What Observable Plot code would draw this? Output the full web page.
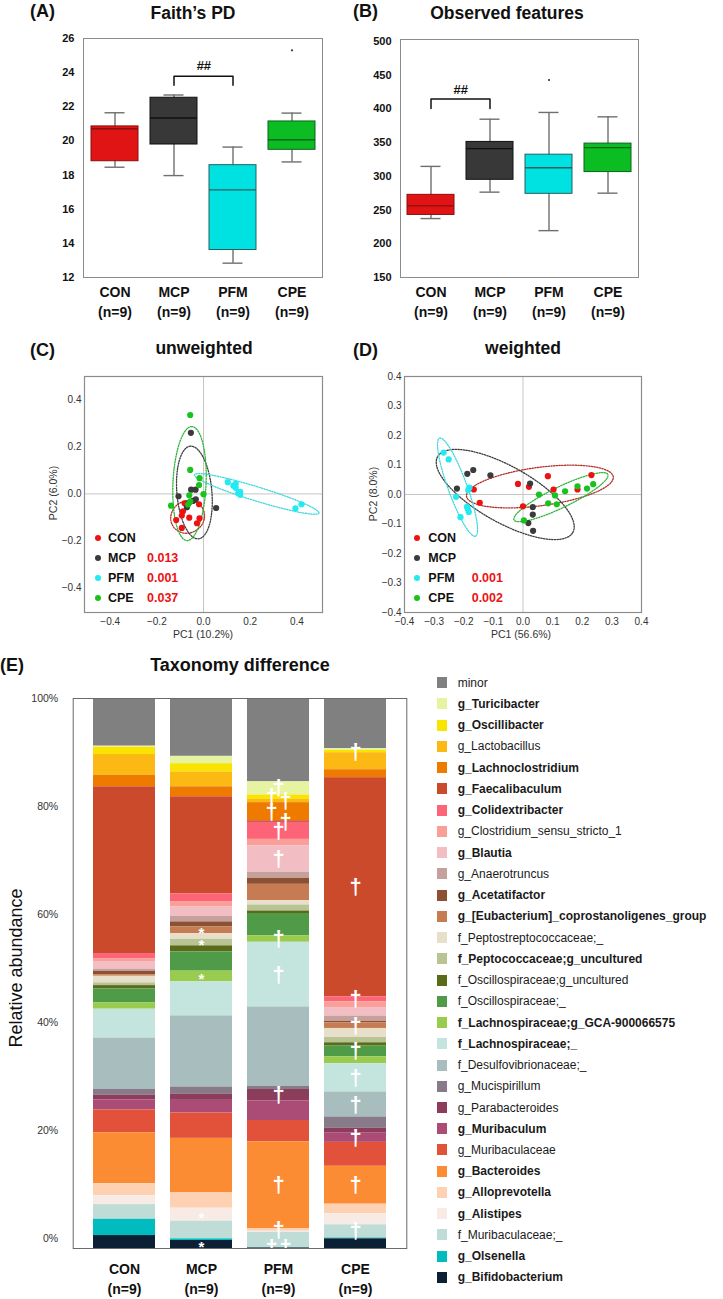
<!DOCTYPE html>
<html lang="en">
<head>
<meta charset="utf-8">
<title>Gut microbiota diversity and composition</title>
<script src="https://cdn.jsdelivr.net/npm/d3@7"></script>
<script src="https://cdn.jsdelivr.net/npm/@observablehq/plot@0.6"></script>
<style>
  html, body { margin: 0; padding: 0; background: #fff; }
  #fig { position: relative; width: 723px; height: 1299px; overflow: hidden;
         font-family: "Liberation Sans", Arial, Helvetica, sans-serif; color: #111; }
  #fig svg { position: absolute; }
  .t { position: absolute; white-space: nowrap; line-height: 1; }
  .sw { position: absolute; width: 10px; height: 11px; }
  .pt { position: absolute; width: 6px; height: 6px; border-radius: 50%; }
</style>
</head>
<body>
<div id="fig"></div>
<script>
const FONT = '"Liberation Sans", Arial, Helvetica, sans-serif';

// ---- groups ----
const groups = ["CON", "MCP", "PFM", "CPE"];
const groupSize = [9, 9, 9, 9];
const boxFill = ["#e01414", "#383838", "#00e2e2", "#0bbd22"];
const boxEdge = ["#8c0d0d", "#101010", "#2a5f5f", "#09651a"];
const dotColor = ["#ee1111", "#3b3b3b", "#22eaf0", "#19c21c"];
const ringColor = ["#b3302a", "#3d3d3d", "#3fd9dd", "#2db63a"];

// ---- (A) Faith's PD: whisker low, Q1, median, Q3, whisker high ----
const faithLow  = [18.46, 17.97, 12.84, 18.77];
const faithQ1   = [18.81, 19.79, 13.61, 19.48];
const faithMed  = [20.71, 21.34, 17.13, 20.07];
const faithQ3   = [20.85, 22.53, 18.58, 21.14];
const faithHigh = [21.65, 22.69, 19.64, 21.63];
const faithOutliers = [["CPE", 25.31]];
const faithBracket = [["MCP", 23.26], ["MCP", 23.79], ["PFM", 23.79], ["PFM", 23.26]];
const faithBracketLabelY = 24.4;
const faithTicks = [12, 14, 16, 18, 20, 22, 24, 26];

// ---- (B) Observed features ----
const obsLow  = [237.4, 276.6, 219.5, 275.1];
const obsQ1   = [242.8, 294.9, 274.1, 306.4];
const obsMed  = [256.2, 341.1, 312.8, 342.6];
const obsQ3   = [272.6, 351.1, 332.2, 348.6];
const obsHigh = [314.8, 384.8, 394.8, 388.3];
const obsOutliers = [["PFM", 442.9]];
const obsBracket = [["CON", 400.7], ["CON", 414.6], ["MCP", 414.6], ["MCP", 400.7]];
const obsBracketLabelY = 429;
const obsTicks = [150, 200, 250, 300, 350, 400, 450, 500];

// ---- (C) unweighted UniFrac PCoA: [PC1, PC2] per sample ----
const unwCON = [[-0.081,-0.040],[-0.019,-0.044],[-0.088,-0.074],[-0.093,-0.092],[-0.061,-0.101],[-0.017,-0.104],[-0.117,-0.111],[-0.028,-0.125],[-0.093,-0.145]];
const unwMCP = [[-0.054,0.260],[-0.034,0.018],[-0.053,0.018],[-0.107,-0.010],[-0.033,-0.023],[-0.064,-0.040],[0.054,-0.060],[-0.071,-0.057],[-0.045,-0.030]];
const unwPFM = [[0.104,0.050],[0.138,0.043],[0.138,0.026],[0.157,0.009],[0.157,-0.004],[0.128,0.035],[0.149,0.003],[0.420,-0.044],[0.394,-0.062]];
const unwCPE = [[-0.057,0.336],[-0.057,0.102],[-0.017,0.067],[-0.019,0.038],[0.0,-0.001],[-0.061,-0.006],[-0.057,-0.033],[-0.139,-0.050],[-0.066,-0.045]];
// confidence ellipses: [centre PC1, centre PC2, semi-major, semi-minor, angle°]
const unwEllipses = [[-0.068,-0.098,0.074,0.068,30],[-0.039,0.006,0.198,0.075,95],[0.228,0.0,0.279,0.030,-17],[-0.060,0.044,0.243,0.071,87.5]];
const unwP = [null, 0.013, 0.001, 0.037];
const unwTicks = [-0.4, -0.2, 0, 0.2, 0.4];

// ---- (D) weighted UniFrac PCoA ----
const wCON = [[-0.166,0.017],[-0.146,-0.028],[-0.017,0.036],[0.020,0.026],[0.0,-0.040],[0.084,0.062],[0.103,0.017],[0.184,0.017],[0.231,0.066]];
const wMCP = [[-0.188,0.070],[-0.168,0.083],[-0.110,0.065],[-0.223,0.020],[0.024,0.037],[0.033,-0.043],[0.033,-0.068],[0.018,-0.097],[0.034,-0.123]];
const wPFM = [[-0.268,0.142],[-0.251,0.119],[-0.181,0.023],[-0.226,-0.008],[-0.189,-0.042],[-0.183,-0.059],[-0.211,-0.077],[-0.185,0.015],[-0.186,-0.050]];
const wCPE = [[0.003,-0.088],[0.054,0.0],[0.085,-0.030],[0.108,-0.003],[0.114,-0.033],[0.142,0.011],[0.184,0.028],[0.216,0.020],[0.237,0.035]];
const wEllipses = [[0.057,0.027,0.250,0.065,7.6],[-0.060,0.0,0.262,0.095,-29.4],[-0.221,0.025,0.177,0.032,-70],[0.128,-0.009,0.176,0.035,26]];
const wP = [null, null, 0.001, 0.002];
const wTicks = [-0.4, -0.3, -0.2, -0.1, 0, 0.1, 0.2, 0.3, 0.4];

// ---- (E) taxonomy, listed top of stack first ----
const taxa = ["minor","g_Turicibacter","g_Oscillibacter","g_Lactobacillus","g_Lachnoclostridium","g_Faecalibaculum","g_Colidextribacter","g_Clostridium_sensu_stricto_1","g_Blautia","g_Anaerotruncus","g_Acetatifactor","g_[Eubacterium]_coprostanoligenes_group","f_Peptostreptococcaceae;_","f_Peptococcaceae;g_uncultured","f_Oscillospiraceae;g_uncultured","f_Oscillospiraceae;_","f_Lachnospiraceae;g_GCA-900066575","f_Lachnospiraceae;_","f_Desulfovibrionaceae;_","g_Mucispirillum","g_Parabacteroides","g_Muribaculum","g_Muribaculaceae","g_Bacteroides","g_Alloprevotella","g_Alistipes","f_Muribaculaceae;_","g_Olsenella","g_Bifidobacterium"];
const taxonColor = ["#808080","#e6f3a1","#f9e400","#fdb913","#ee7a00","#cb4a2b","#fd6478","#fa9e98","#f2bec4","#c6a09c","#8c5033","#c77b52","#e8dfca","#b8c494","#5a6b1a","#4f9b47","#98cb4e","#c4e4de","#a8bdbe","#877b89","#8b3d5b","#aa4c75","#e2523a","#fc8c33","#fdd1b1","#f8ebe6","#bfdcd6","#00bcbf","#0b1f35"];
const taxonBold = [0,1,1,0,1,1,1,0,1,0,1,1,0,1,0,0,1,1,0,0,0,1,0,1,1,1,0,1,1];
const abundCON = [8.7,0.2,1.3,3.8,2.1,30.4,1.0,0.45,1.4,0.4,0.6,0.3,1.2,0.5,0.6,2.55,1.15,5.27,9.33,1.09,0.85,1.82,4.18,9.27,2.18,1.64,2.67,2.97,2.36];
const abundMCP = [10.5,1.33,1.5,2.7,1.8,17.6,1.5,0.91,1.7,1.0,0.91,1.2,1.03,1.2,1.09,3.5,1.94,6.18,12.9,1.33,1.09,2.3,4.6,9.82,2.85,2.36,3.2,0.3,1.45];
const abundPFM = [15.2,2.4,0.8,0.6,3.3,0.3,3.1,1.15,4.85,1.1,1.1,2.97,0.8,1.1,0.45,4.05,1.2,11.8,14.5,0.55,2.06,3.6,3.9,15.8,0.5,0.2,2.8,0.05,0.1];
const abundCPE = [9.15,0.3,0.42,3.1,1.45,39.9,0.91,1.03,1.58,0.97,0.25,1.03,1.64,0.97,0.6,1.94,1.27,5.15,4.55,2.06,0.8,1.76,4.36,6.9,1.76,2.0,2.4,0.15,1.76];
// significance marks: [group, taxon, symbol, horizontal offset px]
const markers = [
  ["MCP","g_[Eubacterium]_coprostanoligenes_group","*",0],
  ["MCP","f_Peptococcaceae;g_uncultured","*",0],
  ["MCP","f_Lachnospiraceae;g_GCA-900066575","*",0],
  ["MCP","g_Alistipes","*",0],
  ["MCP","g_Bifidobacterium","*",0],
  ["PFM","g_Turicibacter","†",0],
  ["PFM","g_Oscillibacter","†",-7],
  ["PFM","g_Lactobacillus","†",7],
  ["PFM","g_Lachnoclostridium","†",-7],
  ["PFM","g_Faecalibaculum","†",7],
  ["PFM","g_Colidextribacter","†",0],
  ["PFM","g_Blautia","†",0],
  ["PFM","f_Lachnospiraceae;g_GCA-900066575","†",0],
  ["PFM","f_Lachnospiraceae;_","†",0],
  ["PFM","g_Parabacteroides","†",0],
  ["PFM","g_Bacteroides","†",0],
  ["PFM","g_Alloprevotella","†",0],
  ["PFM","g_Olsenella","†",-7],
  ["PFM","g_Bifidobacterium","†",7],
  ["CPE","g_Oscillibacter","†",0],
  ["CPE","g_Faecalibaculum","†",0],
  ["CPE","g_Colidextribacter","†",0],
  ["CPE","g_[Eubacterium]_coprostanoligenes_group","†",0],
  ["CPE","f_Oscillospiraceae;_","†",0],
  ["CPE","f_Lachnospiraceae;_","†",0],
  ["CPE","f_Desulfovibrionaceae;_","†",0],
  ["CPE","g_Muribaculum","†",0],
  ["CPE","g_Bacteroides","†",0],
  ["CPE","f_Muribaculaceae;_","†",0]
];
const percentTicks = [0, 0.2, 0.4, 0.6, 0.8, 1];

// ---------------------------------------------------------------
const fig = document.getElementById("fig");
const svgStyle = {fontFamily: FONT, background: "transparent", overflow: "visible", color: "#111"};
const nLabel = d => `${d}\n(n=${groupSize[groups.indexOf(d)]})`;

function mount(node, left, top) {
  node.style.position = "absolute";
  node.style.left = left + "px";
  node.style.top = top + "px";
  fig.appendChild(node);
}

function addText(s, x, y, {size = 12, bold = false, color = "#111", align = "middle", rotate = 0} = {}) {
  const el = document.createElement("div");
  el.className = "t";
  el.textContent = s;
  el.style.left = x + "px";
  el.style.top = y + "px";
  el.style.fontSize = size + "px";
  el.style.fontWeight = bold ? "bold" : "normal";
  el.style.color = color;
  const tx = align === "start" ? "0" : align === "end" ? "-100%" : "-50%";
  el.style.transform = `translate(${tx}, -50%)` + (rotate ? ` rotate(${rotate}deg)` : "");
  fig.appendChild(el);
}

// box plot from summary statistics
function boxPanel({low, q1, med, q3, high, outliers, bracket, bracketLabelY, yDomain, yTicks, width, height, margin}) {
  const rows = groups.map((g, i) => ({g, low: low[i], q1: q1[i], med: med[i], q3: q3[i], high: high[i], fill: boxFill[i], edge: boxEdge[i]}));
  const pIn = 0.21, pOut = 0.105;
  const step = (width - margin.left - margin.right) / (groups.length - pIn + 2 * pOut);
  const cap = 13.5;
  const whisker = {stroke: "#6f6f6f", strokeWidth: 1.4};
  return Plot.plot({
    width, height,
    marginLeft: margin.left, marginRight: margin.right, marginTop: margin.top, marginBottom: margin.bottom,
    style: svgStyle,
    x: {domain: groups, paddingInner: pIn, paddingOuter: pOut},
    y: {domain: yDomain},
    color: {type: "identity"},
    marks: [
      Plot.frame({stroke: "#8c8c8c"}),
      Plot.ruleX(rows, {x: "g", y1: "low", y2: "high", ...whisker}),
      Plot.tickY(rows, {x: "g", y: "low", insetLeft: cap, insetRight: cap, ...whisker}),
      Plot.tickY(rows, {x: "g", y: "high", insetLeft: cap, insetRight: cap, ...whisker}),
      Plot.barY(rows, {x: "g", y1: "q1", y2: "q3", fill: "fill", stroke: "edge", strokeWidth: 1}),
      Plot.tickY(rows, {x: "g", y: "med", stroke: "edge", strokeWidth: 1.4}),
      Plot.dot(outliers, {x: d => d[0], y: d => d[1], r: 1.1, fill: "#333"}),
      Plot.line(bracket, {x: d => d[0], y: d => d[1], stroke: "#111", strokeWidth: 1.5}),
      Plot.text([bracket[1]], {x: d => d[0], y: () => bracketLabelY, text: () => "##", dx: step / 2, fontSize: 13, fontWeight: "bold"}),
      Plot.axisY({ticks: yTicks, tickSize: 0, tickPadding: 9, fontSize: 11, fontWeight: "bold", label: null}),
      Plot.axisX({tickSize: 0, tickPadding: 6, fontSize: 14, fontWeight: "bold", lineHeight: 1.4, tickFormat: nLabel, label: null})
    ]
  });
}

function ellipseOutline([cx, cy, a, b, deg]) {
  const t = deg * Math.PI / 180, n = 96;
  return d3.range(n).map(k => {
    const u = 2 * Math.PI * k / n;
    return [cx + a * Math.cos(u) * Math.cos(t) - b * Math.sin(u) * Math.sin(t),
            cy + a * Math.cos(u) * Math.sin(t) + b * Math.sin(u) * Math.cos(t)];
  });
}

function pcoaPanel({points, ellipses, xDomain, yDomain, ticks, width, height, margin}) {
  const dots = groups.flatMap((g, i) => points[i].map(([x, y]) => ({g, x, y, c: dotColor[i]})));
  const rings = groups.flatMap((g, i) => ellipseOutline(ellipses[i]).map(([x, y]) => ({g, x, y, c: ringColor[i]})));
  const fmt = d3.format(".1f");
  return Plot.plot({
    width, height,
    marginLeft: margin.left, marginRight: margin.right, marginTop: margin.top, marginBottom: margin.bottom,
    style: {...svgStyle, color: "#333"},
    x: {domain: xDomain},
    y: {domain: yDomain},
    color: {type: "identity"},
    marks: [
      Plot.ruleX([0], {stroke: "#c6c6c6"}),
      Plot.ruleY([0], {stroke: "#c6c6c6"}),
      Plot.line(rings, {x: "x", y: "y", z: "g", stroke: "c", curve: "linear-closed", strokeWidth: 1.3, strokeDasharray: "1.3,1.4"}),
      Plot.dot(dots, {x: "x", y: "y", r: 3.1, fill: "c"}),
      Plot.frame({stroke: "#8c8c8c", strokeWidth: 1.2}),
      Plot.axisX({ticks, tickFormat: fmt, tickSize: 0, tickPadding: 5, fontSize: 10, label: null}),
      Plot.axisY({ticks, tickFormat: fmt, tickSize: 0, tickPadding: 3, fontSize: 10, label: null})
    ]
  });
}

function pcoaLegend(dotX, textX, pX, pvals) {
  groups.forEach((g, i) => {
    const y = 538.3 + i * 20;
    const p = document.createElement("div");
    p.className = "pt";
    p.style.left = (dotX - 3) + "px";
    p.style.top = (y - 3) + "px";
    p.style.background = dotColor[i];
    fig.appendChild(p);
    addText(g, textX, y, {size: 12.5, bold: true, align: "start"});
    if (pvals[i] != null) addText(pvals[i].toFixed(3), pX, y, {size: 12.5, bold: true, align: "start", color: "#ee1111"});
  });
}

// ---- panel A ----
mount(boxPanel({low: faithLow, q1: faithQ1, med: faithMed, q3: faithQ3, high: faithHigh,
  outliers: faithOutliers, bracket: faithBracket, bracketLabelY: faithBracketLabelY,
  yDomain: [12, 26], yTicks: faithTicks, width: 360, height: 330,
  margin: {left: 83, right: 38, top: 38, bottom: 53}}), 0, 0);
addText("(A)", 30, 11, {size: 18, bold: true, align: "start"});
addText("Faith’s PD", 193, 13.5, {size: 17.5, bold: true});

// ---- panel B ----
mount(boxPanel({low: obsLow, q1: obsQ1, med: obsMed, q3: obsQ3, high: obsHigh,
  outliers: obsOutliers, bracket: obsBracket, bracketLabelY: obsBracketLabelY,
  yDomain: [150, 503], yTicks: obsTicks, width: 363, height: 330,
  margin: {left: 40, right: 85, top: 39, bottom: 53}}), 360, 0);
addText("(B)", 353, 11, {size: 18, bold: true, align: "start"});
addText("Observed features", 507, 13.5, {size: 17.5, bold: true});

// ---- panel C ----
mount(pcoaPanel({points: [unwCON, unwMCP, unwPFM, unwCPE], ellipses: unwEllipses,
  xDomain: [-0.51, 0.51], yDomain: [-0.505, 0.5], ticks: unwTicks,
  width: 360, height: 280, margin: {left: 84, right: 38, top: 16, bottom: 28}}), 0, 360);
addText("(C)", 30, 350, {size: 18, bold: true, align: "start"});
addText("unweighted", 204, 349, {size: 17.5, bold: true});
addText("PC2 (6.0%)", 53, 493, {size: 10.5, color: "#333", rotate: -90});
addText("PC1 (10.2%)", 203, 634, {size: 10.5, color: "#333"});
pcoaLegend(97.7, 108, 147, unwP);

// ---- panel D ----
mount(pcoaPanel({points: [wCON, wMCP, wPFM, wCPE], ellipses: wEllipses,
  xDomain: [-0.4, 0.4], yDomain: [-0.4, 0.4], ticks: wTicks,
  width: 363, height: 280, margin: {left: 44, right: 82, top: 16, bottom: 28}}), 360, 360);
addText("(D)", 353, 350, {size: 18, bold: true, align: "start"});
addText("weighted", 523, 349, {size: 17.5, bold: true});
addText("PC2 (8.0%)", 373, 494, {size: 10.5, color: "#333", rotate: -90});
addText("PC1 (56.6%)", 521, 634, {size: 10.5, color: "#333"});
pcoaLegend(417.3, 428.3, 471.7, wP);

// ---- panel E ----
const abundByGroup = [abundCON, abundMCP, abundPFM, abundCPE];
const abund = groups.flatMap((g, gi) => taxa.map((taxon, ti) => ({group: g, taxon, value: abundByGroup[gi][ti]})));
const stackOrder = taxa.slice().reverse();
const markerMap = new Map(markers.map(m => [m[0] + "|" + m[1], m]));
const markText = (sym, off) => d => {
  const m = markerMap.get(d.group + "|" + d.taxon);
  return m && m[2] === sym && m[3] === off ? sym : null;
};
const stackOpts = {x: "group", y: "value", z: "taxon", order: stackOrder, offset: "normalize"};
const markStyle = {fill: "white", fontWeight: "bold", clip: "frame"};

const taxPlot = Plot.plot({
  width: 420, height: 609,
  marginLeft: 72.7, marginRight: 13.7, marginTop: 8, marginBottom: 51,
  style: svgStyle,
  x: {domain: groups, paddingInner: 0.197, paddingOuter: 0.245},
  y: {domain: [0, 1], axis: null},
  color: {domain: taxa, range: taxonColor},
  marks: [
    Plot.barY(abund, Plot.stackY({...stackOpts, fill: "taxon"})),
    Plot.text(abund, Plot.stackY({...stackOpts, text: markText("†", 0), fontSize: 22, ...markStyle})),
    Plot.text(abund, Plot.stackY({...stackOpts, text: markText("†", -7), dx: -7, fontSize: 22, ...markStyle})),
    Plot.text(abund, Plot.stackY({...stackOpts, text: markText("†", 7), dx: 7, fontSize: 22, ...markStyle})),
    Plot.text(abund, Plot.stackY({...stackOpts, text: markText("*", 0), dy: 3, fontSize: 15, ...markStyle})),
    Plot.frame({stroke: "#6a6a6a"}),
    Plot.axisX({tickSize: 0, tickPadding: 12, fontSize: 14, fontWeight: "bold", lineHeight: 1.4, tickFormat: nLabel, label: null})
  ]
});
mount(taxPlot, 0, 690);

// percentage axis
const pctAxis = Plot.plot({
  width: 74, height: 609,
  marginLeft: 72.7, marginRight: 1.3, marginTop: 8, marginBottom: 61,
  style: {...svgStyle, color: "#333"},
  y: {domain: [0, 1]},
  marks: [Plot.axisY({ticks: percentTicks, tickFormat: d3.format(".0%"), tickSize: 0, tickPadding: 15, fontSize: 10.5, label: null})]
});
mount(pctAxis, 0, 690);

addText("(E)", 0, 665, {size: 18, bold: true, align: "start"});
addText("Taxonomy difference", 240, 665, {size: 18, bold: true});
addText("Relative abundance", 16, 968, {size: 18, color: "#111", rotate: -90});

// taxon legend
taxa.forEach((taxon, i) => {
  const y = 682.7 + i * 21.24;
  const sw = document.createElement("div");
  sw.className = "sw";
  sw.style.left = "437.3px";
  sw.style.top = (y - 5.5) + "px";
  sw.style.background = taxonColor[i];
  fig.appendChild(sw);
  addText(taxon, 457.7, y, {size: 12, bold: !!taxonBold[i], color: "#1a1a1a", align: "start"});
});
</script>
</body>
</html>
